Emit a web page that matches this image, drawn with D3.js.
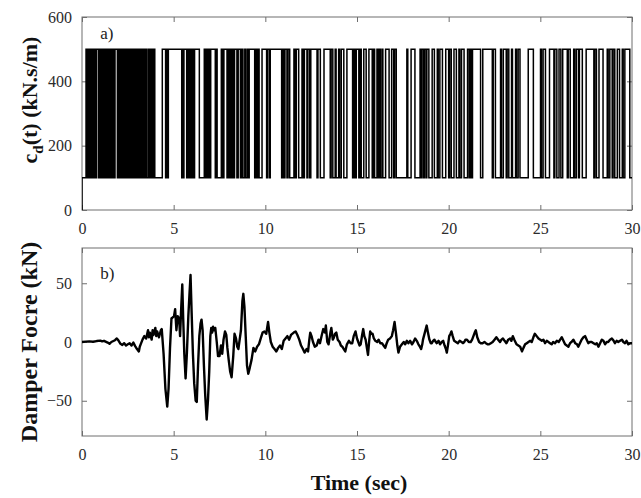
<!DOCTYPE html>
<html><head><meta charset="utf-8">
<script src="https://cdn.jsdelivr.net/npm/d3@7/dist/d3.min.js"></script>
<style>
body{margin:0;background:#fff;}
text{font-family:"Liberation Serif","Times New Roman",serif;}
</style></head>
<body><svg id="c" width="641" height="498"></svg>
<script>
// ---------- DATA ----------
const xTicks = [0, 5, 10, 15, 20, 25, 30];
const cdTicks = [0, 200, 400, 600];
const forceTicks = [-50, 0, 50];
const cdLevels = [100, 500];          // low / high damping (kN.s/m)
const cdStart = 0;                    // value at t = 0
// times (s) at which c_d(t) toggles between the two levels (starts at the low level)
const cdSwitchTimes = [
0.22,0.29,0.36,0.43,0.50,0.57,0.64,0.71,0.78,
0.89,0.96,1.03,1.10,1.17,1.24,1.31,1.38,1.45,1.52,1.59,1.66,1.73,1.80,
1.93,2.00,2.07,2.14,2.21,2.28,2.35,2.42,2.49,2.56,2.63,2.70,2.77,2.84,2.91,2.98,
3.05,3.07,
3.13,3.20,3.27,3.34,3.41,3.48,3.53,
3.62,3.69,3.76,3.83,3.90,3.97,
4.38,4.56,4.62,4.67,4.71,
5.44,5.48,5.52,5.56,
5.71,5.77,5.83,5.89,5.95,6.01,6.07,6.14,
6.40,
6.67,6.74,6.80,
6.87,6.92,6.97,7.02,
7.27,7.32,7.37,
7.60,7.67,7.74,
7.91,7.97,8.03,8.09,
8.14,8.20,8.26,8.32,
8.45,8.52,
8.64,8.71,8.78,
8.88,8.91,
9.00,9.06,9.12,
9.42,9.48,9.54,9.60,9.66,
9.82,
10.07,10.12,10.22,10.27,
10.89,10.94,11.02,11.07,
11.18,11.24,11.33,
11.56,11.61,11.69,
11.82,
12.00,12.05,12.13,
12.27,12.32,12.42,12.48,
12.82,12.87,
13.00,
13.20,
13.54,13.59,13.68,13.81,13.86,
14.00,14.05,14.14,
14.28,14.45,
14.76,14.84,14.89,14.96,
15.10,15.15,15.23,
15.37,15.50,
15.65,
15.83,15.88,15.96,
16.09,16.14,16.22,16.27,16.36,16.41,
16.56,
16.75,16.89,
17.00,17.05,17.14,
17.72,17.77,
17.95,18.16,18.44,
18.48,18.53,18.62,18.67,18.76,18.81,18.92,
19.10,19.22,
19.38,19.43,19.52,
19.66,19.84,
20.00,20.05,20.14,
20.29,20.42,
20.56,20.61,20.70,
20.84,21.03,
21.12,21.17,21.25,21.30,
21.74,21.86,
22.38,22.43,22.55,
22.83,22.88,22.98,23.14,23.19,23.28,23.43,23.48,
23.65,23.70,23.79,
23.89,24.34,24.62,
25.01,25.06,25.15,
25.28,25.50,
25.74,25.79,25.90,26.02,
26.12,26.22,
26.47,26.52,26.63,26.82,26.87,26.96,27.08,27.13,
27.29,27.50,
27.92,27.97,28.06,
28.20,28.42,
28.65,28.70,28.79,
28.92,28.97,29.06,
29.20,29.32,
29.47,29.52,29.61,
29.88
];
// damper force (kN) vs time (s)
const forceTime = [
0,0.2,0.4,0.6,0.8,1.0,1.1,1.2,1.4,1.5,1.6,1.8,1.9,2.0,2.1,2.2,2.3,2.4,2.5,2.6,2.7,2.8,2.9,3.0,3.1,3.15,3.2,3.3,3.4,3.5,3.6,3.65,3.7,3.8,3.85,3.9,4.0,4.05,4.1,4.2,4.3,4.35,4.45,4.55,4.65,4.72,4.8,4.88,4.95,5.02,5.08,5.15,5.22,5.3,5.35,5.4,5.47,5.52,5.58,5.65,5.72,5.8,5.86,5.92,5.98,6.05,6.12,6.2,6.26,6.33,6.4,6.47,6.52,6.58,6.65,6.72,6.8,6.87,6.94,7.0,7.05,7.1,7.15,7.2,7.27,7.35,7.42,7.5,7.58,7.65,7.72,7.8,7.87,7.93,8.0,8.08,8.16,8.25,8.32,8.4,8.47,8.53,8.6,8.67,8.75,8.8,8.86,8.93,9.0,9.07,9.15,9.25,9.35,9.45,9.55,9.65,9.75,9.85,9.95,
10.05,10.15,10.22,10.3,10.4,10.5,10.6,10.7,10.8,10.9,11.0,11.1,11.2,11.3,11.4,11.55,11.65,11.75,11.85,11.95,12.05,12.14,12.25,12.33,12.4,12.45,12.52,12.6,12.7,12.8,12.9,12.98,13.08,13.16,13.25,13.3,13.38,13.45,13.55,13.6,13.68,13.72,13.8,13.87,13.95,14.05,14.12,14.2,14.28,14.36,14.45,14.56,14.65,14.74,14.82,14.92,
15.0,15.07,15.14,15.2,15.28,15.34,15.4,15.47,15.55,15.6,15.66,15.72,15.78,15.85,15.92,16.0,16.1,16.18,16.27,16.36,16.45,16.54,16.62,16.7,16.8,16.9,16.97,17.05,17.13,17.2,17.26,17.35,17.45,17.55,17.63,17.72,17.8,17.9,18.0,18.08,18.17,18.26,18.35,18.43,18.5,18.56,18.6,18.7,18.8,18.87,18.95,19.02,19.08,19.15,19.22,19.3,19.35,19.45,19.53,19.62,19.7,19.78,19.85,19.9,19.97,
20.03,20.1,20.15,20.22,20.3,20.4,20.5,20.6,20.7,20.78,20.85,20.92,21.0,21.1,21.2,21.28,21.35,21.42,21.48,21.56,21.66,21.75,21.85,21.95,22.03,22.12,22.2,22.3,22.4,22.5,22.6,22.7,22.8,22.88,22.96,23.05,23.15,23.25,23.35,23.42,23.5,23.58,23.7,23.8,23.9,24.0,24.08,24.17,24.26,24.35,24.45,24.53,24.62,24.7,24.8,24.9,
25.0,25.08,25.17,25.26,25.35,25.44,25.53,25.62,25.7,25.8,25.9,26.0,26.08,26.17,26.26,26.35,26.44,26.53,26.62,26.7,26.8,26.9,27.0,27.07,27.16,27.25,27.35,27.44,27.53,27.62,27.7,27.8,27.9,28.0,28.08,28.17,28.26,28.35,28.44,28.53,28.62,28.7,28.8,28.9,29.0,29.07,29.16,29.25,29.35,29.45,29.53,29.62,29.7,29.8,29.9,30.0
];
const forceKN = [
0,0.3,0.5,0.2,0.8,1.2,0.5,1.0,-0.5,-1.5,0,1.5,3,1,-1.5,-2.5,-1,-3,-2,-1,-3,-0.5,-3.5,-6,-8,-4,-2,2,5,3,10,4,8,2,10,6,12,5,9,4,10,11,-10,-40,-55,-40,-5,20,21,22,28,10,22,20,5,25,49,20,-10,-31,-10,22,40,57,25,-10,-35,-50,-51,-20,5,16,19,10,-20,-45,-66,-50,-25,5,12,8,13,10,12,0,-12,-12,-3,-10,2,9,6,-5,-15,-25,-30,-12,7,3,-4,-6,2,10,35,41,30,5,-20,-27,-22,-15,-5,-8,-4,-2,3,8,9,
7,17,8,0,-4,-6,-8,-5,-3,-6,1,3,5,2,6,8,9,6,2,-3,-6,-9,-6,-8,2,8,5,0,-4,-3,2,-1,6,11,8,14,0,-2,8,12,2,3,7,8,2,0,-3,-4,-6,-8,-2,1,-1,-1,5,9,
3,0,-3,-2,6,11,5,2,-6,-11,0,9,7,7,3,1,0,2,-1,-1,-3,-5,-1,2,3,5,10,17,7,-3,-9,-4,-2,0,-2,1,-1,1,-2,0,3,1,-2,-4,-6,-2,2,8,14,8,2,-1,-1,1,2,0,-1,1,-2,0,1,-3,-6,-9,-2,
5,7,9,5,1,0,-1,1,0,-1,0,2,2,0,0,2,5,8,10,4,0,-1,-1,0,-1,-2,-2,-1,0,2,4,2,0,2,3,1,-1,2,3,1,5,2,-2,-3,-4,-8,-5,-2,-1,0,1,0,4,7,5,3,
2,1,2,-1,1,0,-1,-2,0,-1,1,0,2,4,1,-2,-3,-4,-1,0,2,-1,-2,-4,-1,2,4,5,2,-1,0,0,-1,-2,-1,-4,-1,2,1,-2,0,0,2,3,1,-1,1,0,1,2,0,-1,1,-2,-1,-1
];

// ---------- LAYOUT ----------
const svg = d3.select("#c");
const L = 82, R = 632;
const topP = {y0: 17, y1: 210};
const botP = {y0: 248, y1: 436};
const axisCol = "#6e6e6e", tickTxt = "#2b2b2b";

const x = d3.scaleLinear().domain([0, 30]).range([L, R]);
const yCd = d3.scaleLinear().domain([0, 600]).range([topP.y1, topP.y0]);
const yF = d3.scaleLinear().domain([-80, 80]).range([botP.y1, botP.y0]);

function panel(p, yScale, yt, id) {
  const g = svg.append("g");
  g.append("clipPath").attr("id", id).append("rect")
    .attr("x", L).attr("y", p.y0).attr("width", R - L).attr("height", p.y1 - p.y0);
  const styleAxis = s => {
    s.select(".domain").remove();
    s.selectAll(".tick line").attr("stroke", axisCol).attr("stroke-width", 1);
    s.selectAll(".tick text").attr("fill", tickTxt)
      .style("font-family", '"Liberation Serif", serif').style("font-size", "16px");
  };
  g.append("g").attr("transform", `translate(0,${p.y1})`)
    .call(d3.axisBottom(x).tickValues(xTicks).tickSize(-5).tickPadding(13).tickFormat(d3.format("d")))
    .call(styleAxis);
  g.append("g").attr("transform", `translate(0,${p.y0})`)
    .call(d3.axisTop(x).tickValues(xTicks).tickSize(-5).tickFormat(""))
    .call(styleAxis);
  g.append("g").attr("transform", `translate(${L},0)`)
    .call(d3.axisLeft(yScale).tickValues(yt).tickSize(-5).tickPadding(10).tickFormat(d3.format("d")))
    .call(styleAxis);
  g.append("g").attr("transform", `translate(${R},0)`)
    .call(d3.axisRight(yScale).tickValues(yt).tickSize(-5).tickFormat(""))
    .call(styleAxis);
  g.append("rect").attr("x", L).attr("y", p.y0).attr("width", R - L).attr("height", p.y1 - p.y0)
    .attr("fill", "none").attr("stroke", axisCol).attr("stroke-width", 1);
  return g;
}

const g1 = panel(topP, yCd, cdTicks, "clipTop");
const g2 = panel(botP, yF, forceTicks, "clipBot");

// c_d(t) step series
const cdSeries = [{t: 0, v: cdStart}, {t: 0, v: cdLevels[0]}];
let state = 0;
cdSwitchTimes.forEach(t => { state = 1 - state; cdSeries.push({t, v: cdLevels[state]}); });
cdSeries.push({t: 30, v: cdLevels[state]});

g1.append("path").datum(cdSeries)
  .attr("clip-path", "url(#clipTop)")
  .attr("fill", "none").attr("stroke", "#000").attr("stroke-width", 1.5)
  .attr("d", d3.line().x(d => x(d.t)).y(d => yCd(d.v)).curve(d3.curveStepAfter));

const fSeries = forceTime.map((t, i) => ({t, v: forceKN[i]}));
g2.append("path").datum(fSeries)
  .attr("clip-path", "url(#clipBot)")
  .attr("fill", "none").attr("stroke", "#000").attr("stroke-width", 2.4)
  .attr("stroke-linejoin", "round")
  .attr("d", d3.line().x(d => x(d.t)).y(d => yF(d.v)));

// panel tags
svg.append("text").attr("x", x(1.0)).attr("y", 39).attr("font-size", 17).attr("fill", "#222").text("a)");
svg.append("text").attr("x", x(1.0)).attr("y", 279).attr("font-size", 17).attr("fill", "#222").text("b)");

// axis titles
const t1 = svg.append("text").attr("transform", `translate(37,100) rotate(-90)`)
  .attr("text-anchor", "middle").attr("font-weight", "bold").attr("font-size", 22).attr("fill", "#111");
t1.append("tspan").text("c");
t1.append("tspan").attr("font-size", 15).attr("dy", 6).text("d");
t1.append("tspan").attr("dy", -6).text("(t) (kN.s/m)");

svg.append("text").attr("transform", `translate(37,${(botP.y0 + botP.y1) / 2}) rotate(-90)`)
  .attr("text-anchor", "middle").attr("font-weight", "bold").attr("font-size", 24).attr("fill", "#111")
  .text("Damper Focre (kN)");

svg.append("text").attr("x", 359).attr("y", 490).attr("text-anchor", "middle")
  .attr("font-weight", "bold").attr("font-size", 22).attr("fill", "#111").text("Time (sec)");
</script></body></html>
